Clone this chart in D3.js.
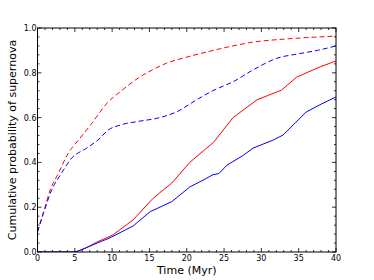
<!DOCTYPE html>
<html>
<head>
<meta charset="utf-8" />
<script src="https://d3js.org/d3.v7.min.js"></script>
<style>
  body { margin: 0; background: #fff; }
  text { font-family: "DejaVu Sans", sans-serif; }
</style>
</head>
<body>
<div id="chart"></div>
<script>
const W = 374, H = 280;
const margin = { top: 28, right: 38, bottom: 28, left: 37.5 };

// (time in Myr, cumulative probability)
const redDashT = [0, 1, 1.7, 2.8, 4.1, 5.5, 7.3, 9.3, 11.1, 13.7, 15.5, 17.3, 20, 22.7, 25.5, 28.9, 32.9, 36, 40];
const redDashP = [0.09, 0.20, 0.277, 0.351, 0.44, 0.50, 0.575, 0.664, 0.716, 0.781, 0.815, 0.843, 0.87, 0.893, 0.915, 0.937, 0.95, 0.957, 0.964];

const blueDashT = [0, 0.8, 1.9, 3.2, 4.6, 6.4, 8.1, 9.5, 11.1, 13.5, 16, 18.6, 21.3, 23.5, 26.2, 29, 32, 35, 37.5, 40];
const blueDashP = [0.09, 0.173, 0.277, 0.351, 0.42, 0.46, 0.5, 0.545, 0.567, 0.583, 0.597, 0.625, 0.679, 0.72, 0.76, 0.815, 0.864, 0.885, 0.9, 0.92];

const redT = [0, 5, 5.5, 6.6, 8, 10.1, 12.8, 15.5, 18, 20.4, 23.6, 26.2, 29.4, 32.7, 34.7, 37.9, 40];
const redP = [0, 0, 0.005, 0.02, 0.045, 0.076, 0.143, 0.24, 0.308, 0.40, 0.49, 0.60, 0.679, 0.723, 0.78, 0.827, 0.853];

const blueT = [0, 5, 5.5, 6.6, 8, 9.7, 12.8, 15.1, 18, 20.4, 22.7, 23.5, 24.3, 25.4, 27.5, 28.9, 31.6, 32.9, 34.5, 36, 38, 40];
const blueP = [0, 0, 0.005, 0.02, 0.04, 0.063, 0.116, 0.18, 0.225, 0.29, 0.33, 0.345, 0.35, 0.388, 0.43, 0.464, 0.5, 0.522, 0.575, 0.625, 0.66, 0.692];

const xTicks = [0, 5, 10, 15, 20, 25, 30, 35, 40];
const yTicks = [0.0, 0.2, 0.4, 0.6, 0.8, 1.0];

const svg = d3.select("#chart").append("svg")
  .attr("width", W).attr("height", H);

const iw = W - margin.left - margin.right;
const ih = H - margin.top - margin.bottom;

const x = d3.scaleLinear().domain([0, 40]).range([margin.left, margin.left + iw]);
const y = d3.scaleLinear().domain([0, 1]).range([margin.top + ih, margin.top]);

const line = d3.line().x(d => x(d[0])).y(d => y(d[1]));
const smooth = d3.line().curve(d3.curveMonotoneX).x(d => x(d[0])).y(d => y(d[1]));

const series = [
  { t: redDashT, p: redDashP, color: "#ff0000", dash: "5,3", gen: smooth },
  { t: blueDashT, p: blueDashP, color: "#0000ff", dash: "5,3", gen: smooth },
  { t: redT, p: redP, color: "#ff0000", dash: null, gen: line },
  { t: blueT, p: blueP, color: "#0000ff", dash: null, gen: line }
];

svg.append("defs").append("clipPath").attr("id", "clip")
  .append("rect").attr("x", margin.left).attr("y", margin.top).attr("width", iw).attr("height", ih);

const g = svg.append("g").attr("clip-path", "url(#clip)");
series.forEach(s => {
  g.append("path")
    .attr("d", s.gen(s.t.map((t, i) => [t, s.p[i]])))
    .attr("fill", "none")
    .attr("stroke", s.color)
    .attr("stroke-width", 1)
    .attr("stroke-dasharray", s.dash);
});

// ticks, inward on all sides
const tk = svg.append("g").attr("stroke", "#000").attr("stroke-width", 0.8);
d3.range(0, 41, 1).forEach(v => {
  const len = v % 5 === 0 ? 4 : 2;
  tk.append("line").attr("x1", x(v)).attr("x2", x(v)).attr("y1", y(0)).attr("y2", y(0) - len);
  tk.append("line").attr("x1", x(v)).attr("x2", x(v)).attr("y1", y(1)).attr("y2", y(1) + len);
});
d3.range(0, 26, 1).forEach(k => {
  const v = k * 0.04;
  const len = k % 5 === 0 ? 4 : 2;
  tk.append("line").attr("y1", y(v)).attr("y2", y(v)).attr("x1", x(0)).attr("x2", x(0) + len);
  tk.append("line").attr("y1", y(v)).attr("y2", y(v)).attr("x1", x(40)).attr("x2", x(40) - len);
});

svg.append("rect")
  .attr("x", margin.left).attr("y", margin.top)
  .attr("width", iw).attr("height", ih)
  .attr("fill", "none").attr("stroke", "#000").attr("stroke-width", 1);

svg.append("g").selectAll("text").data(xTicks).enter().append("text")
  .attr("x", d => x(d)).attr("y", y(0) + 9)
  .attr("text-anchor", "middle").attr("font-size", 8)
  .text(d => d);

svg.append("g").selectAll("text").data(yTicks).enter().append("text")
  .attr("x", x(0) - 1).attr("y", d => y(d) + 3)
  .attr("text-anchor", "end").attr("font-size", 8)
  .text(d => d.toFixed(1));

svg.append("text")
  .attr("x", x(20)).attr("y", 274)
  .attr("text-anchor", "middle").attr("font-size", 11)
  .text("Time (Myr)");

svg.append("text")
  .attr("transform", `translate(16,${y(0.5)}) rotate(-90)`)
  .attr("text-anchor", "middle").attr("font-size", 11)
  .text("Cumulative probability of supernova");
</script>
</body>
</html>
